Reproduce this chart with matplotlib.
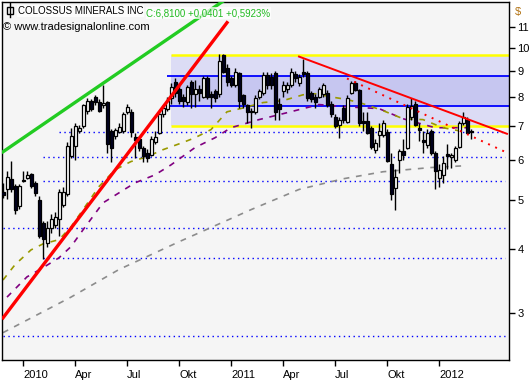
import matplotlib
matplotlib.use('Agg')
import matplotlib.pyplot as plt
from matplotlib.patches import Rectangle
from matplotlib.ticker import NullLocator
import pandas as pd
import numpy as np

plt.rcParams['font.family'] = ['Liberation Sans', 'DejaVu Sans']

# weekly candles, COLOSSUS MINERALS INC
start = '2009-11-30'
opens = [5.20, 5.25, 5.50, 5.33, 4.86, 5.45, 5.52, 5.62, 5.40, 5.00,
         4.50, 4.12, 4.40, 4.47, 4.60, 4.90, 5.15, 6.10, 6.40, 6.85,
         7.00, 7.50, 7.85, 8.00, 7.80, 7.70, 7.80, 6.85, 6.68, 6.83,
         6.86, 7.48, 7.48, 6.67, 6.60, 6.35, 6.20, 6.15, 6.50, 6.80,
         7.38, 7.58, 7.97, 8.57, 8.30, 8.00, 7.80, 8.55, 8.10, 8.30,
         8.00, 8.72, 8.10, 8.20, 8.10, 9.65, 9.10, 8.72, 8.45, 8.93,
         8.07, 7.70, 7.50, 7.48, 8.00, 8.15, 8.84, 8.75, 8.90, 7.75,
         8.20, 8.30, 8.45, 8.85, 8.50, 8.95, 8.90, 8.15, 7.98, 8.00,
         8.10, 8.15, 7.75, 7.30, 7.05, 7.60, 7.14, 8.15, 8.52, 8.26,
         7.18, 7.18, 6.95, 6.29, 6.73, 6.73, 6.83, 5.90, 5.29, 6.00,
         6.26, 6.35, 7.30, 7.75, 6.95, 6.58, 6.43, 6.86, 6.20, 5.54,
         5.61, 6.18, 6.08, 6.00, 6.38, 7.10, 7.20, 6.86]
highs = [5.40, 5.72, 5.98, 5.38, 5.38, 5.72, 5.70, 5.65, 5.45, 5.10,
         4.55, 4.55, 4.70, 4.75, 5.25, 5.30, 6.50, 6.95, 7.10, 7.05,
         7.75, 7.95, 7.90, 8.05, 7.90, 8.45, 7.85, 6.90, 6.95, 7.10,
         7.45, 7.75, 7.55, 6.80, 6.70, 6.40, 6.30, 6.70, 6.85, 7.50,
         7.70, 8.00, 8.50, 8.70, 8.50, 8.10, 8.45, 8.65, 8.65, 8.45,
         8.80, 8.80, 8.20, 8.30, 9.70, 9.70, 9.30, 8.80, 9.10, 8.95,
         8.10, 7.75, 7.60, 8.05, 8.30, 8.95, 8.95, 8.90, 9.00, 7.95,
         8.60, 8.55, 9.10, 9.00, 8.85, 9.50, 9.00, 8.20, 8.10, 8.35,
         8.50, 8.25, 7.85, 7.40, 7.30, 7.70, 8.05, 8.60, 8.60, 8.30,
         7.48, 7.45, 7.00, 6.60, 7.10, 7.20, 6.90, 6.20, 5.75, 6.30,
         6.60, 7.75, 7.95, 7.85, 7.10, 6.85, 6.90, 6.90, 6.25, 5.90,
         6.10, 6.45, 6.20, 6.40, 7.15, 7.48, 7.30, 6.90]
lows = [5.05, 5.03, 5.20, 4.70, 4.80, 5.42, 5.50, 5.28, 5.10, 4.22,
        3.83, 4.05, 4.30, 4.40, 4.25, 4.85, 5.10, 6.05, 6.00, 6.80,
        6.95, 7.40, 7.50, 7.70, 7.45, 7.60, 6.20, 5.95, 6.60, 6.80,
        6.80, 7.40, 6.65, 6.07, 6.25, 5.95, 5.95, 6.10, 6.45, 6.75,
        7.30, 7.50, 7.75, 8.00, 7.75, 7.65, 7.70, 7.60, 7.62, 7.85,
        7.95, 7.90, 7.60, 7.80, 8.00, 8.90, 8.40, 8.35, 8.35, 7.60,
        7.60, 7.10, 6.95, 7.40, 7.90, 8.05, 8.30, 8.30, 7.20, 7.20,
        8.00, 8.15, 8.35, 8.55, 8.40, 8.75, 7.85, 7.80, 7.60, 7.95,
        8.00, 7.65, 7.30, 6.95, 6.64, 7.10, 7.10, 8.10, 8.20, 7.00,
        6.85, 6.75, 6.30, 6.20, 6.37, 6.65, 5.95, 5.00, 4.79, 5.65,
        6.00, 6.30, 7.20, 7.00, 6.55, 6.20, 6.35, 6.15, 5.25, 5.30,
        5.40, 5.75, 5.80, 5.95, 6.35, 7.05, 6.80, 6.60]
closes = [5.12, 5.55, 5.27, 4.78, 5.33, 5.48, 5.60, 5.33, 5.17, 4.25,
          4.20, 4.40, 4.60, 4.64, 5.20, 5.20, 6.40, 6.70, 7.00, 6.95,
          7.70, 7.85, 7.55, 7.80, 7.50, 7.78, 6.45, 6.35, 6.87, 6.97,
          7.38, 7.65, 6.83, 6.58, 6.35, 6.10, 6.05, 6.60, 6.67, 7.38,
          7.60, 7.85, 8.38, 8.15, 7.85, 7.85, 8.38, 8.10, 8.30, 8.15,
          8.72, 8.00, 8.00, 7.95, 9.40, 8.97, 8.55, 8.45, 8.97, 7.83,
          7.75, 7.45, 7.45, 7.95, 8.20, 8.84, 8.45, 8.45, 7.45, 7.55,
          8.45, 8.45, 8.97, 8.70, 8.75, 8.85, 7.97, 7.90, 7.80, 8.27,
          8.45, 7.72, 7.38, 7.00, 7.20, 7.20, 7.95, 8.50, 8.26, 7.10,
          7.10, 6.80, 6.37, 6.49, 6.86, 7.10, 5.98, 5.15, 5.56, 6.26,
          6.15, 7.65, 7.68, 7.05, 6.88, 6.50, 6.80, 6.20, 5.70, 5.73,
          5.93, 6.10, 6.15, 6.35, 7.10, 7.30, 6.77, 6.81]

# moving averages (bar index, value)
ma_fast_idx = [0, 3, 7, 10, 14, 17, 20, 24, 28, 32, 36, 40, 45, 48, 52, 56, 60,
               65, 70, 75, 78, 83, 86, 90, 95, 100, 105, 110, 115]
ma_fast = [3.48, 3.73, 3.99, 4.10, 4.18, 4.43, 4.79, 5.32, 5.74, 5.96, 6.09, 6.29,
           6.50, 6.64, 6.89, 7.47, 7.60, 7.79, 7.86, 8.07, 8.11, 7.97, 7.90, 7.75,
           7.51, 7.24, 7.21, 6.95, 6.83]
ma_mid_idx = [1, 6, 10, 14, 17, 20, 25, 29, 33, 38, 42, 48, 53, 57, 64, 71, 79,
              86, 94, 100, 108, 116]
ma_mid = [3.22, 3.53, 3.68, 3.85, 4.05, 4.37, 4.94, 5.17, 5.41, 5.61, 5.87, 6.35,
          6.64, 6.95, 7.21, 7.44, 7.72, 7.64, 7.58, 7.24, 6.95, 6.95]
ma_slow_idx = [0, 17, 29, 44, 62, 74, 85, 95, 107, 116]
ma_slow = [2.74, 3.22, 3.65, 4.14, 4.79, 5.25, 5.51, 5.69, 5.80, 5.85]

# drawn trend lines (bar index, price)
green_line = ([0, 56], [6.23, 12.5])
red_line = ([0, 56], [2.93, 11.2])
resist_line = ([74, 126], [9.6, 6.76])
resist_dotted = ([86, 125.5], [8.69, 6.23])

# horizontal levels: (price, first bar)
dotted_levels = [(6.83, 14), (6.09, 10), (5.46, 10), (4.41, 0), (3.85, 10), (2.70, 0)]
box_start = 42
box_top, box_bottom = 9.69, 7.00
band_top, band_bottom = 8.77, 7.68

quarters = ['2010-01-01', '2010-04-01', '2010-07-01', '2010-10-01', '2011-01-01',
            '2011-04-01', '2011-07-01', '2011-10-01', '2012-01-01']
quarter_labels = ['2010', 'Apr', 'Jul', 'Okt', '2011', 'Apr', 'Jul', 'Okt', '2012']
price_ticks = [3, 4, 5, 6, 7, 8, 9, 10, 11]

dates = pd.date_range(start, periods=len(closes), freq='7D')
n = len(closes)
x_right = 126.5

fig = plt.figure(figsize=(5.32, 3.8), dpi=100)
ax = fig.add_axes([2 / 532, 20 / 380, 507 / 532, 358 / 380])
ax.set_facecolor('#f5f5f5')
ax.set_yscale('log')
ax.set_xlim(-0.25, x_right)
ax.set_ylim(2.42, 12.3)

# channel box
ax.add_patch(Rectangle((box_start, box_bottom), x_right - box_start, box_top - box_bottom,
                       facecolor='#dcdcf5', edgecolor='none', zorder=1))
ax.add_patch(Rectangle((box_start, band_bottom), x_right - box_start, band_top - band_bottom,
                       facecolor='#c6c6f0', edgecolor='none', zorder=1))
ax.hlines([box_top, box_bottom], box_start, x_right, color='#ffff00', lw=1.8, zorder=2)
ax.hlines([band_top, band_bottom], box_start - 1, x_right, color='#0000ff', lw=1.3, zorder=2)

for lvl, s in dotted_levels:
    ax.plot([s, 125.5], [lvl, lvl], color='#0000ff', lw=1, ls=(0, (1, 2.5)), zorder=2)

# moving averages
ax.plot(ma_slow_idx, ma_slow, color='#8c8c8c', lw=1.2, ls=(0, (3.5, 4)), zorder=2.5)
ax.plot(ma_mid_idx, ma_mid, color='#800080', lw=1.2, ls=(0, (3.5, 4)), zorder=2.5)
ax.plot(ma_fast_idx, ma_fast, color='#999900', lw=1.2, ls=(0, (3.5, 4)), zorder=2.5)

# candles
idx = np.arange(n)
o = np.array(opens); c = np.array(closes)
ax.vlines(idx, lows, highs, color='black', lw=1, zorder=3)
up = c >= o
ax.bar(idx[up], np.maximum(c[up] - o[up], 0.02), bottom=o[up], width=0.75,
       facecolor='white', edgecolor='black', lw=0.9, zorder=3.5)
ax.bar(idx[~up], np.maximum(o[~up] - c[~up], 0.02), bottom=c[~up], width=0.75,
       facecolor='#000020', edgecolor='black', lw=0.9, zorder=3.5)

# trend lines
ax.plot(*green_line, color='#22cc22', lw=2.4, zorder=4)
ax.plot(*red_line, color='#ff0000', lw=2.4, zorder=4)
ax.plot(*resist_line, color='#ff0000', lw=1.4, zorder=4)
ax.plot(*resist_dotted, color='#ff0000', lw=1.4, ls=(0, (1, 3)), zorder=4)

# axes
ax.yaxis.tick_right()
ax.set_yticks(price_ticks)
ax.set_yticklabels([str(t) for t in price_ticks])
ax.yaxis.set_minor_locator(NullLocator())
ax.tick_params(axis='y', direction='out', length=4, width=1, labelsize=8, pad=2)
tick_pos = [int(np.searchsorted(dates, pd.Timestamp(q))) for q in quarters]
ax.set_xticks(tick_pos)
ax.set_xticklabels(quarter_labels, ha='left')
ax.tick_params(axis='x', direction='out', length=4, width=1, labelsize=8, pad=3)
for s in ax.spines.values():
    s.set_linewidth(1)
ax.text(1.012, 0.985, '$', transform=ax.transAxes, fontsize=8, color='#b07010',
        va='top', ha='left')

# header
box = dict(facecolor='white', edgecolor='none', alpha=0.75, pad=0.5)
name = fig.text(18 / 532, 1 - 14 / 380, 'COLOSSUS MINERALS INC', fontsize=7, color='black',
                bbox=box, zorder=10)
ax.annotate('C:6,8100 +0,0401 +0,5923%', xy=(1, 0), xycoords=name,
            xytext=(2, 0), textcoords='offset points', fontsize=7, color='#22bb22',
            bbox=box, zorder=10, annotation_clip=False)
fig.text(3 / 532, 1 - 30 / 380, '\u00a9 www.tradesignalonline.com', fontsize=8,
         color='black', zorder=10)
fig.add_artist(plt.Line2D([10 / 532, 10 / 532], [1 - 3 / 380, 1 - 17 / 380], color='black',
                          lw=1, transform=fig.transFigure))
fig.add_artist(Rectangle((7 / 532, 1 - 14 / 380), 6 / 532, 7 / 380, facecolor='white',
                         edgecolor='black', lw=1, transform=fig.transFigure))

fig.savefig('out.png', dpi=100)
